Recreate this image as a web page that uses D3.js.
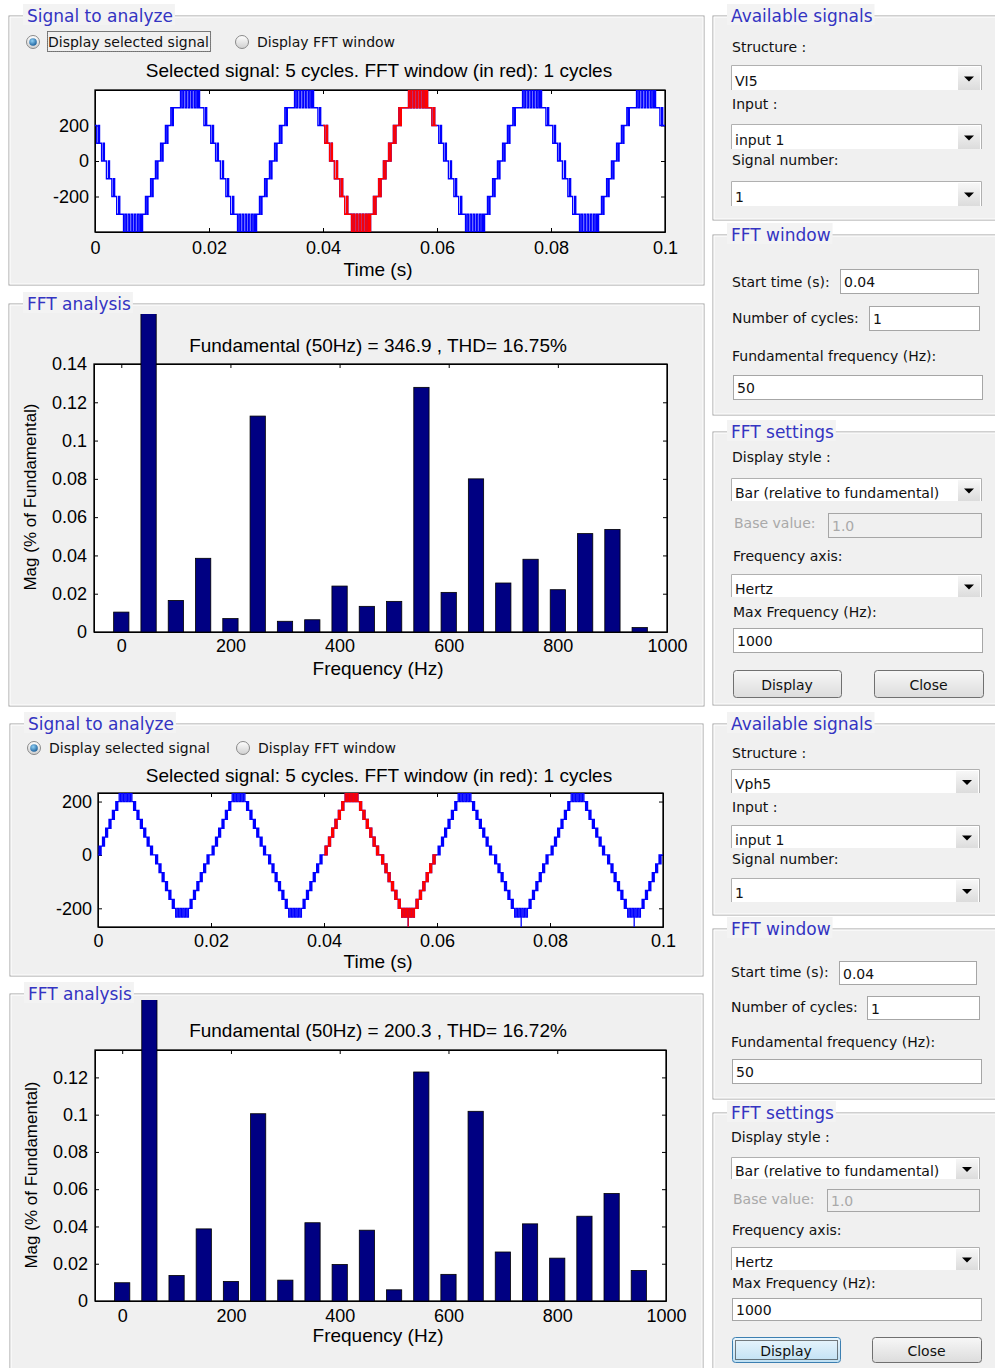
<!DOCTYPE html>
<html lang="en">
<head>
  <meta charset="UTF-8">
  <title>FFT analysis</title>
  <style>
    body { margin: 0; background: #fff; }
    svg text { font-family: "Liberation Sans", Arial, sans-serif; fill: #000; }
    .ttl { font-family: "DejaVu Sans", sans-serif !important; font-size: 17px; fill: #3434c2 !important; }
    .ui { font-family: "DejaVu Sans", sans-serif !important; font-size: 14px; fill: #111 !important; }
    .ui.off { fill: #a9a9a9 !important; }
    .ax text { font-size: 18px; }
    .lbl { font-size: 19px; }
    .ylbl { font-size: 17px; }
  </style>
</head>
<body>
  <script src="https://d3js.org/d3.v7.min.js"></script>
  <div id="chart"></div>
  <script>
    // ---------------- data ----------------
    var timeTicks = [0, 0.02, 0.04, 0.06, 0.08, 0.1];
    var freqTicks = [0, 200, 400, 600, 800, 1000];
    var harmonicsHz = [0, 50, 100, 150, 200, 250, 300, 350, 400, 450, 500, 550, 600, 650, 700, 750, 800, 850, 900, 950];
    // magnitude relative to fundamental (50 Hz bar = 1, clipped)
    var magVl5 = [0.0104, 1, 0.0165, 0.0385, 0.0070, 0.1128, 0.0056, 0.0064, 0.0240, 0.0134, 0.0160, 0.1278, 0.0207, 0.0800, 0.0256, 0.0380, 0.0221, 0.0514, 0.0536, 0.0023];
    var magVph5 = [0.0098, 1, 0.0137, 0.0387, 0.0105, 0.1005, 0.0112, 0.0420, 0.0196, 0.0380, 0.0060, 0.1229, 0.0143, 0.1018, 0.0263, 0.0414, 0.0230, 0.0455, 0.0577, 0.0164];
    var fftTicksVl5 = [0, 0.02, 0.04, 0.06, 0.08, 0.1, 0.12, 0.14];
    var fftTicksVph5 = [0, 0.02, 0.04, 0.06, 0.08, 0.1, 0.12];
    var sigTicks = [-200, 0, 200];

    // one 20 ms cycle of the line voltage VI5: [ms, volts], value holds until next entry
    var vl5Cycle = [
      [0, 200], [0.3, 100], [0.6, 200], [0.8, 100], [1.15, 0], [1.45, 100], [1.65, 0], [2.0, -100], [2.35, 0], [2.55, -100],
      [2.95, -200], [3.25, -100], [3.45, -200], [3.8, -300], [4.15, -200], [4.35, -300],
      [5.0, -400], [5.25, -300], [5.5, -400], [5.8, -300], [6.05, -400], [6.35, -300], [6.6, -400], [6.9, -300],
      [7.15, -400], [7.45, -300], [7.7, -400], [7.95, -300], [8.15, -400], [8.35, -300],
      [8.85, -200], [9.1, -300], [9.3, -200], [9.75, -100], [10.0, -200], [10.2, -100], [10.6, 0], [10.85, -100], [11.05, 0],
      [11.5, 100], [11.75, 0], [11.95, 100], [12.35, 200], [12.6, 100], [12.8, 200], [13.3, 300], [13.55, 200], [13.75, 300],
      [15.0, 400], [15.25, 300], [15.5, 400], [15.8, 300], [16.05, 400], [16.35, 300], [16.6, 400], [16.9, 300],
      [17.15, 400], [17.45, 300], [17.7, 400], [17.95, 300], [18.15, 400], [18.35, 300],
      [19.1, 200], [19.4, 300], [19.6, 200]
    ];
    // one cycle of the phase voltage Vph5: [ms, level step], one step = 100/3 V
    var vph5Cycle = [
      [0, 0], [0.2, 1], [0.4, 0], [0.55, 1], [0.8, 2], [1.0, 1], [1.15, 2], [1.35, 3], [1.55, 2], [1.7, 3],
      [1.95, 4], [2.15, 3], [2.3, 4], [2.55, 5], [2.75, 4], [2.9, 5], [3.15, 6], [3.35, 5], [3.5, 6],
      [3.75, 7], [4.0, 6], [4.25, 7], [4.5, 6], [4.75, 7], [5.0, 6], [5.25, 7], [5.5, 6], [5.75, 7], [6.0, 6],
      [6.3, 5], [6.45, 6], [6.65, 5], [6.9, 4], [7.05, 5], [7.25, 4], [7.5, 3], [7.65, 4], [7.85, 3],
      [8.1, 2], [8.25, 3], [8.45, 2], [8.7, 1], [8.85, 2], [9.05, 1], [9.3, 0], [9.45, 1], [9.65, 0],
      [10.2, -1], [10.4, 0], [10.55, -1], [10.8, -2], [11.0, -1], [11.15, -2], [11.35, -3], [11.55, -2], [11.7, -3],
      [11.95, -4], [12.15, -3], [12.3, -4], [12.55, -5], [12.75, -4], [12.9, -5], [13.15, -6], [13.35, -5], [13.5, -6],
      [13.75, -7], [14.0, -6], [14.25, -7], [14.5, -6], [14.75, -7], [15.0, -6], [15.25, -7], [15.5, -6], [15.75, -7], [16.0, -6],
      [16.3, -5], [16.45, -6], [16.65, -5], [16.9, -4], [17.05, -5], [17.25, -4], [17.5, -3], [17.65, -4], [17.85, -3],
      [18.1, -2], [18.25, -3], [18.45, -2], [18.7, -1], [18.85, -2], [19.05, -1], [19.3, 0], [19.45, -1], [19.65, 0]
    ];
    var vph5Step = 100 / 3;
    var vph5Dips = [54.9, 74.9, 94.9]; // ms, short dips to -8 steps
    var nCycles = 5, periodMs = 20;

    // ---------------- svg ----------------
    var svg = d3.select("#chart").append("svg")
      .attr("width", 995).attr("height", 1368)
      .style("display", "block");

    var defs = svg.append("defs");
    function grad(id, c0, c1) {
      var g = defs.append("linearGradient").attr("id", id).attr("x1", 0).attr("y1", 0).attr("x2", 0).attr("y2", 1);
      g.append("stop").attr("offset", "0%").attr("stop-color", c0);
      g.append("stop").attr("offset", "100%").attr("stop-color", c1);
    }
    grad("btnG", "#f7f7f7", "#dcdcdc");
    grad("btnF", "#eaf6fd", "#bfe0f3");
    grad("radG", "#ffffff", "#cfcfcf");
    var rg = defs.append("radialGradient").attr("id", "dotG").attr("cx", "40%").attr("cy", "35%").attr("r", "70%");
    rg.append("stop").attr("offset", "0%").attr("stop-color", "#8fd0f5");
    rg.append("stop").attr("offset", "100%").attr("stop-color", "#165b98");

    // etched frame with a title
    function panel(x, y, w, h, title) {
      svg.append("rect").attr("x", x).attr("y", y).attr("width", w).attr("height", h)
        .attr("fill", "#f0f0f0").attr("stroke", "#a0a0a0");
      svg.append("rect").attr("x", x + 1).attr("y", y + 1).attr("width", w - 2).attr("height", h - 2)
        .attr("fill", "none").attr("stroke", "#fff");
      var bg = svg.append("rect").attr("fill", "#f3f3f3");
      var t = svg.append("text").attr("class", "ttl").attr("x", x + 18).attr("y", y + 6).text(title);
      var tw = t.node().getComputedTextLength();
      bg.attr("x", x + 14).attr("y", y - 12).attr("width", tw + 6).attr("height", 21);
    }

    function uiText(x, cy, s, off) {
      return svg.append("text").attr("class", off ? "ui off" : "ui").attr("x", x).attr("y", cy + 5).text(s);
    }

    function popup(x0, x1, y0, y1, s) {
      svg.append("rect").attr("x", x0).attr("y", y0).attr("width", x1 - x0).attr("height", y1 - y0).attr("fill", "#fff");
      svg.append("path").attr("d", "M" + (x0 + 0.5) + "," + y1 + "V" + (y0 + 0.5) + "H" + (x1 - 0.5) + "V" + y1)
        .attr("fill", "none").attr("stroke", "#b0b0b0");
      svg.append("rect").attr("x", x1 - 24).attr("y", y0 + 2).attr("width", 22).attr("height", y1 - y0 - 2).attr("fill", "url(#btnG)");
      var cx = x1 - 13, cy = (y0 + y1) / 2 + 1;
      svg.append("path").attr("d", "M" + (cx - 5) + "," + (cy - 2) + "H" + (cx + 5) + "L" + cx + "," + (cy + 3) + "Z").attr("fill", "#000");
      uiText(x0 + 4, (y0 + y1) / 2 + 3, s);
    }

    function editBox(x0, x1, y0, y1, s, off) {
      svg.append("rect").attr("x", x0 + 0.5).attr("y", y0 + 0.5).attr("width", x1 - x0).attr("height", y1 - y0)
        .attr("fill", off ? "#f0f0f0" : "#fff").attr("stroke", "#a6a6a6");
      uiText(x0 + 4, (y0 + y1) / 2 + 1, s, off);
    }

    function button(x0, x1, y0, y1, s, focused) {
      svg.append("rect").attr("x", x0 + 0.5).attr("y", y0 + 0.5).attr("width", x1 - x0).attr("height", y1 - y0).attr("rx", 3)
        .attr("fill", focused ? "url(#btnF)" : "url(#btnG)").attr("stroke", focused ? "#3c7fb1" : "#707070");
      if (focused) {
        svg.append("rect").attr("x", x0 + 3.5).attr("y", y0 + 3.5).attr("width", x1 - x0 - 6).attr("height", y1 - y0 - 6)
          .attr("fill", "none").attr("stroke", "#000").attr("stroke-dasharray", "1,1");
      }
      uiText((x0 + x1) / 2, (y0 + y1) / 2 + 1, s).attr("text-anchor", "middle");
    }

    function radio(cx, cy, on, s, focus) {
      svg.append("circle").attr("cx", cx).attr("cy", cy).attr("r", 6.5).attr("fill", "url(#radG)").attr("stroke", "#8a8a8a");
      if (on) svg.append("circle").attr("cx", cx).attr("cy", cy).attr("r", 3.8).attr("fill", "url(#dotG)");
      var t = uiText(cx + 15, cy, s);
      if (focus) {
        var w = t.node().getComputedTextLength();
        svg.append("rect").attr("x", cx + 14.5).attr("y", cy - 10.5).attr("width", w + 2).attr("height", 20)
          .attr("fill", "none").attr("stroke", "#000").attr("stroke-dasharray", "1,1");
      }
    }

    // inward ticks on all four sides plus a box
    function drawAxes(g, x, y, xt, yt, xPad, yPad) {
      var r = x.range(), d = y.range();
      g.append("g").attr("class", "ax").attr("transform", "translate(0," + d[0] + ")")
        .call(d3.axisBottom(x).tickValues(xt).tickSize(-4).tickSizeOuter(0).tickPadding(xPad).tickFormat(function (v) { return String(v); }));
      g.append("g").attr("class", "ax").attr("transform", "translate(0," + d[1] + ")")
        .call(d3.axisTop(x).tickValues(xt).tickSize(-4).tickSizeOuter(0).tickFormat(""));
      g.append("g").attr("class", "ax").attr("transform", "translate(" + r[0] + ",0)")
        .call(d3.axisLeft(y).tickValues(yt).tickSize(-4).tickSizeOuter(0).tickPadding(yPad).tickFormat(function (v) { return String(v); }));
      g.append("g").attr("class", "ax").attr("transform", "translate(" + r[1] + ",0)")
        .call(d3.axisRight(y).tickValues(yt).tickSize(-4).tickSizeOuter(0).tickFormat(""));
      g.selectAll(".ax path.domain").attr("stroke", "#000");
      g.append("rect").attr("x", r[0]).attr("y", d[1]).attr("width", r[1] - r[0]).attr("height", d[0] - d[1])
        .attr("fill", "none").attr("stroke", "#000").attr("stroke-width", 1.3);
    }

    function buildSignal(cycle, unit) {
      var pts = [];
      for (var c = 0; c < nCycles; c++) {
        cycle.forEach(function (p) { pts.push([(c * periodMs + p[0]) / 1000, p[1] * unit]); });
      }
      pts.push([nCycles * periodMs / 1000, pts[pts.length - 1][1]]);
      return pts;
    }

    function signalPlot(id, box, yDomain, pts, dips, xPad) {
      var g = svg.append("g");
      var x = d3.scaleLinear().domain([0, 0.1]).range([box[0], box[1]]);
      var y = d3.scaleLinear().domain(yDomain).range([box[3], box[2]]);
      g.append("rect").attr("x", box[0]).attr("y", box[2]).attr("width", box[1] - box[0]).attr("height", box[3] - box[2]).attr("fill", "#fff");
      defs.append("clipPath").attr("id", id + "all").append("rect")
        .attr("x", box[0]).attr("y", box[2]).attr("width", box[1] - box[0]).attr("height", box[3] - box[2]);
      defs.append("clipPath").attr("id", id + "red").append("rect")
        .attr("x", x(0.04)).attr("y", box[2]).attr("width", x(0.06) - x(0.04)).attr("height", box[3] - box[2]);
      var line = d3.line().x(function (d) { return x(d[0]); }).y(function (d) { return y(d[1]); }).curve(d3.curveStepAfter);
      drawAxes(g, x, y, timeTicks, sigTicks, xPad, 6);
      ["#0000ff", "#ff0000"].forEach(function (col, i) {
        var lg = g.append("g").attr("clip-path", "url(#" + id + (i ? "red" : "all") + ")");
        lg.append("path").attr("d", line(pts)).attr("fill", "none").attr("stroke", col).attr("stroke-width", 1.3);
        (dips || []).forEach(function (ms) {
          var t = ms / 1000;
          lg.append("path").attr("d", line([[t, y.domain()[0]], [t, -7 * vph5Step]])).attr("fill", "none").attr("stroke", col).attr("stroke-width", 1.3);
        });
      });
      return x;
    }

    function fftPlot(id, box, yMax, yTicks, mags, xPad) {
      var g = svg.append("g");
      var x = d3.scaleLinear().domain([-50, 1000]).range([box[0], box[1]]);
      var y = d3.scaleLinear().domain([0, yMax]).range([box[3], box[2]]);
      g.append("rect").attr("x", box[0]).attr("y", box[2]).attr("width", box[1] - box[0]).attr("height", box[3] - box[2]).attr("fill", "#fff");
      drawAxes(g, x, y, freqTicks, yTicks, xPad, 7);
      defs.append("clipPath").attr("id", id).append("rect")
        .attr("x", box[0]).attr("y", box[2] - 50).attr("width", box[1] - box[0]).attr("height", box[3] - box[2] + 50);
      var bw = x(14) - x(0);
      g.append("g").attr("clip-path", "url(#" + id + ")")
        .selectAll("rect").data(harmonicsHz).enter().append("rect")
        .attr("x", function (f) { return x(f) - bw; })
        .attr("width", 2 * bw)
        .attr("y", function (f, i) { return y(mags[i]); })
        .attr("height", function (f, i) { return y(0) - y(mags[i]); })
        .attr("fill", "#000082").attr("stroke", "#000").attr("stroke-width", 0.8);
    }

    function centerText(x, y, s, cls) {
      return svg.append("text").attr("class", cls || "lbl").attr("x", x).attr("y", y).attr("text-anchor", "middle").text(s);
    }
    function yLabel(x, y) {
      svg.append("text").attr("class", "ylbl").attr("transform", "translate(" + x + "," + y + ") rotate(-90)")
        .attr("text-anchor", "middle").text("Mag (% of Fundamental)");
    }

    // ================= upper screen (VI5) =================
    panel(9, 16, 695, 269, "Signal to analyze");
    radio(33, 42, true, "Display selected signal", true);
    radio(242, 42, false, "Display FFT window");
    centerText(379, 77, "Selected signal: 5 cycles. FFT window (in red): 1 cycles");
    signalPlot("s1", [95, 665, 90, 232], [-400, 400], buildSignal(vl5Cycle, 1), null, 9);
    centerText(378, 276, "Time (s)");

    panel(9, 304, 695, 402, "FFT analysis");
    centerText(378, 352, "Fundamental (50Hz) = 346.9 , THD= 16.75%");
    fftPlot("f1", [94, 667, 364, 632], 0.14, fftTicksVl5, magVl5, 7);
    centerText(378, 675, "Frequency (Hz)");
    yLabel(36, 497);

    panel(713, 16, 300, 204, "Available signals");
    uiText(732, 47, "Structure :");
    popup(731, 982, 65, 90, "VI5");
    uiText(732, 104, "Input :");
    popup(731, 982, 124, 149, "input 1");
    uiText(732, 160, "Signal number:");
    popup(731, 982, 181, 206, "1");

    panel(713, 235, 300, 180, "FFT window");
    uiText(732, 282, "Start time (s):");
    editBox(840, 978, 269, 293, "0.04");
    uiText(732, 318, "Number of cycles:");
    editBox(869, 979, 306, 330, "1");
    uiText(732, 356, "Fundamental frequency (Hz):");
    editBox(733, 982, 375, 399, "50");

    panel(713, 432, 300, 273, "FFT settings");
    uiText(732, 457, "Display style :");
    popup(731, 982, 478, 501, "Bar (relative to fundamental)");
    uiText(734, 523, "Base value:", true);
    editBox(828, 981, 513, 537, "1.0", true);
    uiText(733, 556, "Frequency axis:");
    popup(731, 982, 574, 597, "Hertz");
    uiText(733, 612, "Max Frequency (Hz):");
    editBox(733, 982, 628, 652, "1000");
    button(733, 841, 670, 697, "Display");
    button(874, 983, 670, 697, "Close");

    // ================= lower screen (Vph5) =================
    panel(10, 724, 693, 252, "Signal to analyze");
    radio(34, 748, true, "Display selected signal");
    radio(243, 748, false, "Display FFT window");
    centerText(379, 782, "Selected signal: 5 cycles. FFT window (in red): 1 cycles");
    signalPlot("s2", [98, 663, 793, 927], [-270, 232], buildSignal(vph5Cycle, vph5Step), vph5Dips, 7);
    centerText(378, 968, "Time (s)");

    panel(10, 994, 693, 400, "FFT analysis");
    centerText(378, 1037, "Fundamental (50Hz) = 200.3 , THD= 16.72%");
    fftPlot("f2", [95, 666, 1050, 1301], 0.1347, fftTicksVph5, magVph5, 8);
    centerText(378, 1342, "Frequency (Hz)");
    yLabel(37, 1175);

    panel(713, 724, 300, 191, "Available signals");
    uiText(732, 753, "Structure :");
    popup(731, 980, 769, 793, "Vph5");
    uiText(732, 807, "Input :");
    popup(731, 980, 825, 848, "input 1");
    uiText(732, 859, "Signal number:");
    popup(731, 980, 878, 902, "1");

    panel(713, 929, 300, 170, "FFT window");
    uiText(731, 972, "Start time (s):");
    editBox(839, 976, 961, 984, "0.04");
    uiText(731, 1007, "Number of cycles:");
    editBox(867, 979, 996, 1019, "1");
    uiText(731, 1042, "Fundamental frequency (Hz):");
    editBox(732, 981, 1059, 1083, "50");

    panel(713, 1113, 300, 280, "FFT settings");
    uiText(731, 1137, "Display style :");
    popup(731, 980, 1157, 1179, "Bar (relative to fundamental)");
    uiText(733, 1199, "Base value:", true);
    editBox(827, 979, 1189, 1211, "1.0", true);
    uiText(732, 1230, "Frequency axis:");
    popup(731, 980, 1247, 1270, "Hertz");
    uiText(732, 1283, "Max Frequency (Hz):");
    editBox(732, 981, 1298, 1320, "1000");
    button(732, 840, 1337, 1362, "Display", true);
    button(872, 981, 1337, 1362, "Close");
  </script>
</body>
</html>
